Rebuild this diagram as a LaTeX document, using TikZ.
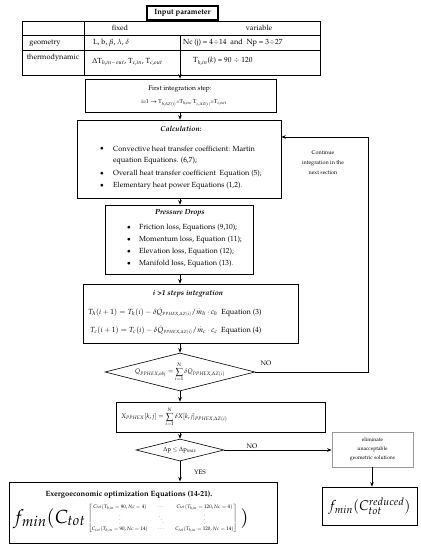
\documentclass[tikz,border=0pt]{standalone}
\usepackage[T1]{fontenc}
\usepackage{amsmath}
\usepackage{mathpazo}
\usetikzlibrary{arrows.meta,shapes.geometric,fit}
\begin{document}
\begin{tikzpicture}[x=1pt,y=-1pt,
  box/.style={draw, line width=0.6pt, inner sep=0},
  thickbox/.style={draw, line width=1.3pt, inner sep=0},
  graybox/.style={draw=black!40, line width=0.5pt, inner sep=0},
  arr/.style={-{Stealth[length=4.5pt,width=3.5pt]}, line width=0.8pt},
  txt/.style={inner sep=0, font=\fontsize{7.4}{8.8}\selectfont},
  ltxt/.style={txt, anchor=west},
  stxt/.style={inner sep=0, font=\fontsize{5.5}{6.5}\selectfont, align=center},
  bul/.style={inner sep=0, font=\fontsize{7}{8.4}\selectfont}
]
\useasboundingbox (0,0) rectangle (421,550);
\coordinate (axis) at (180,0);

% input parameter
\node[thickbox, fit={(147,6) (218,20)}] (inbox) {};
\node[txt, font=\fontsize{7.6}{9}\selectfont\bfseries] (intxt) at (inbox.center) {Input parameter};

% table
\node[box, fit={(22,21) (320,75)}] (tbl) {};
\draw[line width=0.6pt] (22,35) -- (320,35) (22,50) -- (320,50) (84,21) -- (84,75) (180,35) -- (180,75);
\node[txt] (hfix) at (120,28) {fixed};
\node[txt] (hvar) at (259,28) {variable};
\node[txt] (rgeo) at (45,43) {geometry};
\node[txt] (rth) at (53,58) {thermodynamic};
\node[ltxt] (geofix) at (93,43) {L, b, $\beta$, $\lambda$, $\delta$};
\node[ltxt] (geovar) at (183,43) {Nc (j) = 4$\div$14 \ and \ Np = 3$\div$27};
\node[ltxt] (thfix) at (92,62) {$\Delta$T$_{h,in-out}$, T$_{c,in}$, T$_{c,out}$};
\node[ltxt] (thvar) at (193,61) {T$_{h,in}$($k$) = 90 $\div$ 120};

% first integration step
\node[box, fit={(85,79) (276,112)}] (first) {};
\node[txt, font=\fontsize{6.7}{8}\selectfont] (firstA) at (180,89) {First integration step:};
\node[txt, font=\fontsize{5.5}{7}\selectfont] (firstB) at (184,103) {i=1 $\boldsymbol{\rightarrow}$ T$_{h,\Delta Z(i)}$=T$_{h,in}$; T$_{c,\Delta Z(i)}$=T$_{c,out}$};

% calculation
\node[box, fit={(77,120) (281,198)}] (calc) {};
\node[txt, font=\fontsize{7.4}{8.8}\selectfont\bfseries\itshape] (calcT) at (181,129) {Calculation:};
\foreach \yy/\tt [count=\k] in {149/{Convective heat transfer coefficient: Martin},174/{Overall heat transfer coefficient \ Equation (5);},186/{Elementary heat power Equations (1,2).}}{
  \node[bul] (cb\k) at (102,\yy) {$\bullet$};
  \node[ltxt] (ct\k) at (113,\yy) {\tt};
}
\node[ltxt] (ct4) at (113,161) {equation Equations. (6,7);};

% pressure drops
\node[box, fit={(105,205) (253,274)}] (pres) {};
\node[txt, font=\fontsize{7.4}{8.8}\selectfont\bfseries\itshape] (presT) at (180,213) {Pressure Drops};
\foreach \yy/\tt [count=\k] in {228/{Friction loss, Equations (9,10);},240/{Momentum loss, Equation (11);},252/{Elevation loss, Equation (12);},264/{Manifold loss, Equation (13).}}{
  \node[bul] (pb\k) at (129,\yy) {$\bullet$};
  \node[ltxt] (pt\k) at (139,\yy) {\tt};
}

% i>1 steps
\node[box, fit={(83,284) (298,343)}] (steps) {};
\node[txt, font=\fontsize{7.4}{8.8}\selectfont\bfseries\itshape] (stepsT) at (188,294) {i >1 steps integration};
\node[ltxt] (eq3) at (88,312) {$T_h(i+1) = T_h(i) - \delta\dot{Q}_{\scriptscriptstyle PPHEX,\Delta Z(i)}/\dot{m}_h\cdot c_h$ \ Equation (3)};
\node[ltxt] (eq4) at (90,330) {$T_c(i+1) = T_c(i) - \delta\dot{Q}_{\scriptscriptstyle PPHEX,\Delta Z(i)}/\dot{m}_c\cdot c_c$ \ Equation (4)};

% diamond 1
\node[diamond, draw, line width=0.6pt, minimum width=150pt, minimum height=38pt, inner sep=0] (d1) at (180,372) {};
\node[txt, font=\fontsize{6.5}{7.5}\selectfont] (d1t) at (180,372) {$\dot{Q}_{PPHEX,obj} = \displaystyle\sum_{i=1}^{N}\delta Q_{PPHEX,\Delta Z(i)}$};

% X box
\node[box, fit={(116,402) (325,432)}] (xbox) {};
\node[ltxt, font=\fontsize{6.5}{7.5}\selectfont] (xt) at (121,417) {$X_{PPHEX}[k,j] = \displaystyle\sum_{i=1}^{N}\delta X[k,j]_{PPHEX,\Delta Z(i)}$};

% diamond 2
\node[diamond, draw, line width=0.6pt, minimum width=88pt, minimum height=22pt, inner sep=0] (d2) at (180,450) {};
\node[txt, font=\fontsize{6}{7}\selectfont] (d2t) at (180,450) {$\Delta$p $\leq$ $\Delta$p$_{max}$};

% eliminate
\node[graybox, fit={(332,432) (413,467)}] (elim) {};
\node[stxt, font=\fontsize{5.2}{9}\selectfont] (elimt) at (elim.center) {eliminate\\unacceptable\\geometric solutions};

% exergo
\node[draw, line width=1pt, inner sep=0, fit={(9,482) (277,543)}] (exe) {};
\node[txt, font=\fontsize{7.6}{9}\selectfont\bfseries] (exeT) at (129,495) {Exergoeconomic optimization Equations (14-21).};
\node[inner sep=0, anchor=base west, font=\fontsize{19}{21}\selectfont] (exeF) at (13,523) {$f_{min}(C_{tot}\,\raisebox{3.5pt}{\fontsize{5.1}{6.2}\selectfont$\left[\begin{matrix} C_{tot}(T_{h,in}=90, Nc=4) & \cdots & C_{tot}(T_{h,in}=120, Nc=4)\\ \vdots & \ddots & \vdots\\ C_{tot}(T_{h,in}=90, Nc=14) & \cdots & C_{tot}(T_{h,in}=120, Nc=14)\end{matrix}\right]$}\,)$};

% reduced
\node[box, fit={(322,487) (417,525)}] (red) {};
\node[inner sep=0, font=\fontsize{14}{16}\selectfont] (redt) at (red.center) {$f_{min}(C_{tot}^{reduced})$};

% connectors
\draw[arr] (tbl.south -| axis) -- (first.north -| axis);
\draw[arr] (first.south -| axis) -- (calc.north -| axis);
\draw[arr] (calc.south -| axis) -- (pres.north -| axis);
\draw[arr] (pres.south -| axis) -- (steps.north -| axis);
\draw[arr] (steps.south -| axis) -- (d1.north);
\draw[arr] (d1.south) -- (xbox.north -| axis);
\draw[arr] (xbox.south -| axis) -- (d2.north);
\draw[arr] (d2.south) -- (exe.north -| axis);
\coordinate (fbA) at (368,372);
\coordinate (fbB) at (368,137);
\draw[arr] (d1.east) -- (fbA) -- (fbB) -- (fbB -| calc.east);
\draw[arr] (d2.east) -- (d2.east -| elim.west);
\coordinate (elimx) at (372,0);
\draw[arr] (elim.south -| elimx) -- (red.north -| elimx);

% labels
\node[stxt, font=\fontsize{5.5}{10}\selectfont] (cont) at (323,163) {Continue\\integration in the\\next section};
\node[txt, font=\fontsize{6.5}{8}\selectfont] (no1) at (266,363) {NO};
\node[txt, font=\fontsize{6.5}{8}\selectfont] (no2) at (252,446) {NO};
\node[txt, font=\fontsize{6.5}{8}\selectfont] (yes) at (200,472) {YES};
\end{tikzpicture}
\end{document}
